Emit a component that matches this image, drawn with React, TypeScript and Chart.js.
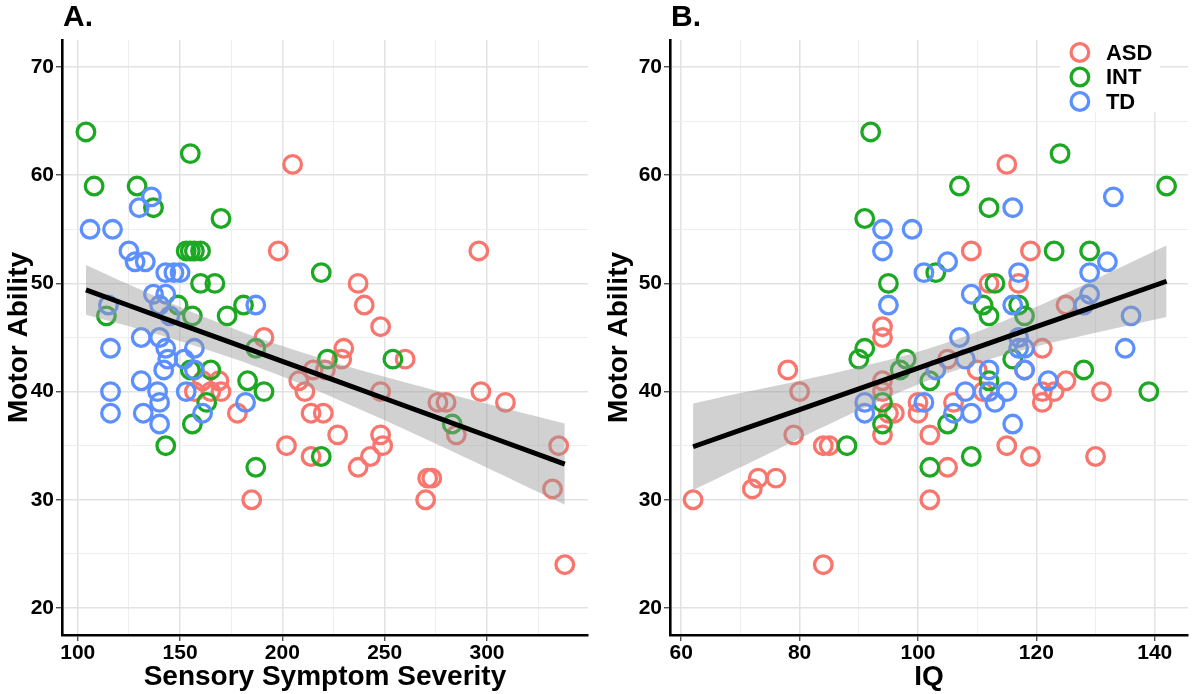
import React, { useEffect, useRef } from 'react';
import { Chart, registerables } from 'chart.js';

Chart.register(...registerables);

// ---------- groups ----------
const groups = ['ASD', 'INT', 'TD'];
const groupColors = ['#F8766D', '#1DA823', '#5C8FFF'];

// ---------- Panel A: Sensory Symptom Severity vs Motor Ability ----------
const asdA_sensory = [198, 205, 237, 240, 248, 191, 230, 229, 260, 208, 215, 221, 211, 214, 220, 227, 202, 214, 237, 243, 185, 178, 161, 165, 169, 170, 157, 296, 248, 276, 280, 285, 297, 309, 335, 332, 338, 248, 249, 271, 273, 270];
const asdA_motor = [53, 61, 50, 48, 46, 45, 44, 43, 43, 41, 42, 42, 40, 38, 38, 36, 35, 34, 33, 34, 30, 38, 41, 40, 41, 40, 40, 53, 40, 39, 39, 36, 40, 39, 35, 31, 24, 36, 35, 32, 32, 30];

const intA_sensory = [104, 155, 108, 129, 137, 170, 153, 155, 157, 160, 160, 167, 219, 114, 149, 156, 173, 181, 187, 155, 165, 183, 191, 163, 156, 143, 187, 222, 219, 254, 283];
const intA_motor = [64, 62, 59, 59, 57, 56, 53, 53, 53, 53, 50, 50, 51, 47, 48, 47, 47, 48, 44, 42, 42, 41, 40, 39, 37, 35, 33, 43, 34, 43, 37];

const tdA_sensory = [136, 130, 106, 117, 125, 128, 133, 143, 147, 150, 137, 143, 115, 140, 145, 187, 131, 140, 116, 143, 157, 152, 142, 157, 131, 116, 153, 139, 140, 182, 116, 132, 161, 140, 144];
const tdA_motor = [58, 57, 55, 55, 53, 52, 52, 51, 51, 51, 49, 49, 48, 48, 47, 48, 45, 45, 44, 44, 44, 43, 42, 42, 41, 40, 40, 40, 39, 39, 38, 38, 38, 37, 43];

// fitted line and confidence band
const fitA_x = [104, 125, 150, 175, 200, 225, 250, 275, 300, 338];
const fitA_y = [49.4, 47.96, 46.24, 44.52, 42.8, 41.08, 39.36, 37.64, 35.92, 33.3];
const fitA_lo = [47.1, 46.03, 44.66, 43.13, 41.39, 39.44, 37.34, 35.17, 32.96, 29.55];
const fitA_hi = [51.7, 49.89, 47.82, 45.91, 44.21, 42.72, 41.38, 40.11, 38.88, 37.05];

// ---------- Panel B: IQ vs Motor Ability ----------
const asdB_iq = [62, 72, 73, 76, 78, 80, 79, 84, 84, 85, 94, 94, 94, 94, 94, 95, 96, 100, 100, 102, 102, 105, 105, 106, 109, 110, 111, 112, 115, 115, 117, 119, 119, 118, 121, 121, 121, 123, 125, 125, 130, 131];
const asdB_motor = [30, 31, 32, 32, 42, 40, 36, 24, 35, 35, 46, 45, 41, 40, 36, 38, 38, 38, 39, 36, 30, 33, 43, 39, 53, 42, 40, 50, 61, 35, 50, 53, 34, 42, 44, 40, 39, 40, 48, 41, 34, 40];

const intB_iq = [92, 91, 107, 124, 112, 142, 95, 103, 113, 123, 129, 111, 112, 117, 118, 91, 90, 98, 97, 102, 116, 112, 128, 139, 94, 94, 88, 105, 102, 109];
const intB_motor = [64, 56, 59, 62, 57, 59, 50, 51, 50, 53, 53, 48, 47, 48, 47, 44, 43, 43, 42, 41, 43, 41, 42, 40, 39, 37, 35, 37, 33, 34];

const tdB_iq = [94, 94, 99, 116, 133, 101, 105, 117, 129, 132, 95, 109, 116, 129, 128, 136, 107, 117, 117, 118, 135, 108, 103, 112, 118, 122, 91, 91, 101, 106, 108, 109, 112, 113, 115, 116];
const tdB_motor = [55, 53, 55, 57, 58, 51, 52, 51, 51, 52, 48, 49, 48, 49, 48, 47, 45, 45, 44, 44, 44, 43, 42, 42, 42, 41, 39, 38, 39, 38, 40, 38, 40, 39, 40, 37];

const fitB_x = [62, 70, 80, 90, 100, 110, 120, 130, 142];
const fitB_y = [34.9, 36.43, 38.34, 40.26, 42.17, 44.08, 46.0, 47.91, 50.2];
const fitB_lo = [30.9, 33.0, 35.67, 38.27, 40.66, 42.63, 44.16, 45.43, 46.9];
const fitB_hi = [38.9, 39.86, 41.01, 42.25, 43.68, 45.53, 47.84, 50.39, 53.5];

// ---------- axes ----------
const xTicksA = [100, 125, 150, 175, 200, 225, 250, 275, 300, 325];
const xMajorA = [100, 150, 200, 250, 300];
const xTicksB = [60, 70, 80, 90, 100, 110, 120, 130, 140];
const xMajorB = [60, 80, 100, 120, 140];
const yTicks = [20, 25, 30, 35, 40, 45, 50, 55, 60, 65, 70];
const yMajor = [20, 30, 40, 50, 60, 70];

const FONT = "'Liberation Sans', Arial, Helvetica, sans-serif";

const pts = (xs: number[], ys: number[]) => xs.map((x, i) => ({ x, y: ys[i] }));

function pointDataset(label: string, color: string, data: any[], order: number) {
  return {
    label,
    data,
    showLine: false,
    pointStyle: 'circle',
    pointRadius: 8.8,
    pointHoverRadius: 8.8,
    pointBorderWidth: 3.3,
    pointBackgroundColor: 'rgba(0,0,0,0)',
    pointBorderColor: color,
    borderColor: color,
    backgroundColor: 'rgba(0,0,0,0)',
    order,
  };
}

function gridOpts(major: number[]) {
  return {
    display: true,
    drawOnChartArea: true,
    drawTicks: true,
    color: (ctx: any) => (major.includes(ctx.tick?.value) ? '#e2e2e2' : '#eeeeee'),
    lineWidth: (ctx: any) => (major.includes(ctx.tick?.value) ? 1.5 : 1),
    tickColor: (ctx: any) => (major.includes(ctx.tick?.value) ? '#333333' : 'rgba(0,0,0,0)'),
    tickLength: 6,
    tickWidth: 1.2,
  };
}

interface PanelSpec {
  label: string;
  xTitle: string;
  xMin: number;
  xMax: number;
  xTicks: number[];
  xMajor: number[];
  yWidth: number;
  rightPad: number;
  series: { x: number[]; y: number[] }[];
  fit: { x: number[]; y: number[]; lo: number[]; hi: number[] };
  legend: boolean;
}

function makeConfig(spec: PanelSpec): any {
  const pointSets = spec.series.map((s, i) =>
    pointDataset(groups[i], groupColors[i], pts(s.x, s.y), 5 - i)
  );
  const datasets: any[] = [
    ...pointSets,
    {
      label: 'band-hi',
      data: pts(spec.fit.x, spec.fit.hi),
      borderWidth: 0,
      borderColor: 'rgba(0,0,0,0)',
      pointRadius: 0,
      fill: false,
      tension: 0.35,
      order: 1,
    },
    {
      label: 'band-lo',
      data: pts(spec.fit.x, spec.fit.lo),
      borderWidth: 0,
      borderColor: 'rgba(0,0,0,0)',
      pointRadius: 0,
      fill: '-1',
      backgroundColor: 'rgba(153,153,153,0.45)',
      tension: 0.35,
      order: 1,
    },
    {
      label: 'fit',
      data: pts(spec.fit.x, spec.fit.y),
      borderColor: '#000000',
      borderWidth: 5,
      pointRadius: 0,
      fill: false,
      tension: 0,
      order: 0,
    },
  ];

  const panelLabel = {
    id: 'panelLabel',
    afterDraw(chart: any) {
      const { ctx, chartArea } = chart;
      ctx.save();
      ctx.font = `bold 30px ${FONT}`;
      ctx.fillStyle = '#000';
      ctx.textBaseline = 'alphabetic';
      ctx.textAlign = 'left';
      ctx.fillText(spec.label, chartArea.left + 1, 26);
      ctx.restore();
    },
  };

  const legendPlugin = {
    id: 'groupLegend',
    beforeDatasetsDraw(chart: any) {
      if (!spec.legend) return;
      const { ctx, chartArea } = chart;
      const x0 = chartArea.right - 128;
      ctx.save();
      ctx.fillStyle = '#ffffff';
      ctx.fillRect(x0, chartArea.top, 100, 72);
      ctx.font = `bold 22px ${FONT}`;
      ctx.textBaseline = 'middle';
      ctx.textAlign = 'left';
      groups.forEach((g, i) => {
        const cy = chartArea.top + 12.5 + i * 24.5;
        ctx.beginPath();
        ctx.arc(x0 + 20, cy, 8.8, 0, Math.PI * 2);
        ctx.lineWidth = 3.3;
        ctx.strokeStyle = groupColors[i];
        ctx.stroke();
        ctx.fillStyle = '#000';
        ctx.fillText(g, x0 + 46, cy + 1);
      });
      ctx.restore();
    },
  };

  return {
    type: 'line',
    data: { datasets },
    plugins: [panelLabel, legendPlugin],
    options: {
      animation: false,
      responsive: false,
      devicePixelRatio: 1,
      events: [],
      layout: { padding: { top: 40, right: spec.rightPad, left: 0, bottom: 0 } },
      plugins: {
        legend: { display: false },
        tooltip: { enabled: false },
        title: { display: false },
      },
      scales: {
        x: {
          type: 'linear',
          position: 'bottom',
          min: spec.xMin,
          max: spec.xMax,
          afterBuildTicks: (s: any) => {
            s.ticks = spec.xTicks.map((v) => ({ value: v }));
          },
          afterFit: (s: any) => {
            s.height = 59;
          },
          ticks: {
            autoSkip: false,
            maxRotation: 0,
            padding: 0,
            color: '#000',
            font: { family: FONT, size: 21, weight: 'bold' },
            callback: (v: any) => (spec.xMajor.includes(v) ? String(v) : ''),
          },
          grid: gridOpts(spec.xMajor),
          border: { display: true, color: '#000', width: 2.6 },
          title: {
            display: true,
            text: spec.xTitle,
            color: '#000',
            font: { family: FONT, size: 28, weight: 'bold' },
            padding: 0,
          },
        },
        y: {
          type: 'linear',
          position: 'left',
          min: 17.5,
          max: 72.5,
          afterBuildTicks: (s: any) => {
            s.ticks = yTicks.map((v) => ({ value: v }));
          },
          afterFit: (s: any) => {
            s.width = spec.yWidth;
          },
          ticks: {
            autoSkip: false,
            padding: 2,
            color: '#000',
            font: { family: FONT, size: 21, weight: 'bold' },
            callback: (v: any) => (yMajor.includes(v) ? String(v) : ''),
          },
          grid: gridOpts(yMajor),
          border: { display: true, color: '#000', width: 2.6 },
          title: {
            display: true,
            text: 'Motor Ability',
            color: '#000',
            font: { family: FONT, size: 28, weight: 'bold' },
            padding: { top: 2, bottom: 0 },
          },
        },
      },
    },
  };
}

const specA: PanelSpec = {
  label: 'A.',
  xTitle: 'Sensory Symptom Severity',
  xMin: 92.3,
  xMax: 349.3,
  xTicks: xTicksA,
  xMajor: xMajorA,
  yWidth: 62,
  rightPad: 9,
  series: [
    { x: asdA_sensory, y: asdA_motor },
    { x: intA_sensory, y: intA_motor },
    { x: tdA_sensory, y: tdA_motor },
  ],
  fit: { x: fitA_x, y: fitA_y, lo: fitA_lo, hi: fitA_hi },
  legend: false,
};

const specB: PanelSpec = {
  label: 'B.',
  xTitle: 'IQ',
  xMin: 58.1,
  xMax: 145.6,
  xTicks: xTicksB,
  xMajor: xMajorB,
  yWidth: 70,
  rightPad: 2,
  series: [
    { x: asdB_iq, y: asdB_motor },
    { x: intB_iq, y: intB_motor },
    { x: tdB_iq, y: tdB_motor },
  ],
  fit: { x: fitB_x, y: fitB_y, lo: fitB_lo, hi: fitB_hi },
  legend: true,
};

function Panel({ spec, left }: { spec: PanelSpec; left: number }) {
  const ref = useRef<HTMLCanvasElement | null>(null);
  useEffect(() => {
    if (!ref.current) return;
    const chart = new Chart(ref.current, makeConfig(spec));
    return () => chart.destroy();
  }, [spec]);
  return (
    <canvas
      ref={ref}
      width={600}
      height={694}
      style={{ position: 'absolute', left, top: 0, width: 600, height: 694 }}
    />
  );
}

export default function App() {
  return (
    <div
      style={{
        position: 'fixed',
        left: 0,
        top: 0,
        width: 1200,
        height: 694,
        background: '#ffffff',
        overflow: 'hidden',
      }}
    >
      <Panel spec={specA} left={0} />
      <Panel spec={specB} left={600} />
    </div>
  );
}
